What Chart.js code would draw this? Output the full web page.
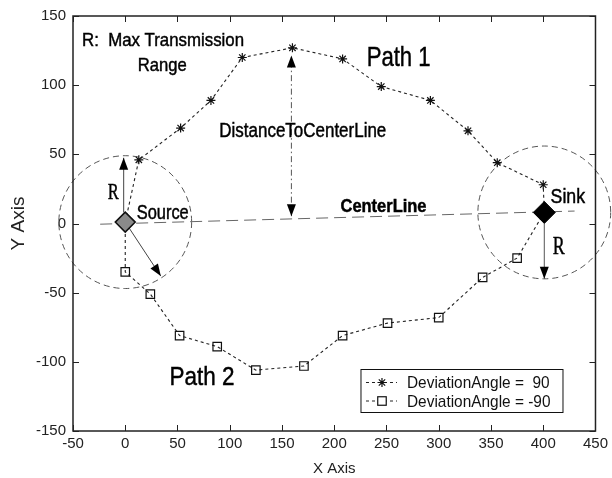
<!DOCTYPE html>
<html><head><meta charset="utf-8">
<script src="https://cdn.jsdelivr.net/npm/chart.js@4/dist/chart.umd.min.js"></script>
<style>html,body{margin:0;padding:0;background:#fff;}canvas{display:block;}</style>
</head><body>
<canvas id="c" width="612" height="478"></canvas>
<script>
// ---------- data ----------
const xTicks = [-50, 0, 50, 100, 150, 200, 250, 300, 350, 400, 450];
const yTicks = [-150, -100, -50, 0, 50, 100, 150];
const sourceNode = [0, 1];
const sinkNode = [401, 8];
// Path 1 (DeviationAngle = 90), starting at source and ending at sink
const path1X = [0, 13, 53, 82, 112, 160, 208, 245, 292, 328, 356, 400, 401];
const path1Y = [1, 46, 69, 89, 120, 127, 119, 99, 89, 67, 44, 28, 8];
// Path 2 (DeviationAngle = -90)
const path2X = [0, 0, 24, 52, 88, 125, 171, 208, 251, 300, 342, 375, 401];
const path2Y = [1, -35, -51, -81, -89, -106, -103, -81, -72, -68, -39, -25, 8];
const centerLineX = [-24, 430];
const centerLineY = [-0.5, 9];
const seriesLabels = ['DeviationAngle =  90', 'DeviationAngle = -90'];
const rangeR = 48; // max transmission range (y units)

const pts = (xs, ys) => xs.map((x, i) => ({x, y: ys[i]}));
const endsHidden = (xs, r) => xs.map((_, i) => (i === 0 || i === xs.length - 1) ? 0 : r);

// annotation arrows (data coords)
const arrows = [
  {from: [-1.5, 8], to: [-1.5, 47.5], dash: [], color: '#444', heads: 1},
  {from: [0, 1], to: [34, -38], dash: [], color: '#444', heads: 1},
  {from: [401, 0], to: [401, -40], dash: [], color: '#555', heads: 1},
  {from: [159, 5.3], to: [159, 121.5], dash: [6, 3, 1.5, 3], color: '#555', heads: 2}
];
// annotation texts: anchor (data coords, left/baseline), pixel width, font
const texts = [
  {t: 'R:  Max Transmission', x: -41.4, y: 128, w: 162, f: '18.5px "Liberation Sans", Arial, sans-serif'},
  {t: 'Range', x: 11.9, y: 109.9, w: 49, f: '18.5px "Liberation Sans", Arial, sans-serif'},
  {t: 'DistanceToCenterLine', x: 90, y: 62.2, w: 167, f: '19.5px "Liberation Sans", Arial, sans-serif'},
  {t: 'Path 1', x: 231, y: 113.5, w: 64, f: '28px "Liberation Sans", Arial, sans-serif'},
  {t: 'Path 2', x: 42.4, y: -116.4, w: 65, f: '25.5px "Liberation Sans", Arial, sans-serif'},
  {t: 'Source', x: 11, y: 3.6, w: 52, f: '19.5px "Liberation Sans", Arial, sans-serif'},
  {t: 'Sink', x: 407, y: 14.5, w: 34.5, f: '20px "Liberation Sans", Arial, sans-serif'},
  {t: 'CenterLine', x: 206, y: 8, w: 86, f: 'bold 18px "Liberation Sans", Arial, sans-serif'},
  {t: 'R', x: -16.7, y: 17.7, w: 11, f: '24px "Liberation Serif", "Times New Roman", serif'},
  {t: 'R', x: 409, y: -22.4, w: 12, f: '26px "Liberation Serif", "Times New Roman", serif'}
];

function fitText(ctx, t, x, y, w, font, color) {
  ctx.save();
  ctx.font = font;
  ctx.fillStyle = color || '#000';
  ctx.strokeStyle = color || '#000';
  ctx.lineWidth = 0.45;
  ctx.textAlign = 'left';
  ctx.textBaseline = 'alphabetic';
  const m = ctx.measureText(t).width;
  ctx.translate(x, y);
  ctx.scale(w / m, 1);
  ctx.fillText(t, 0, 0);
  ctx.strokeText(t, 0, 0);
  ctx.restore();
}
function arrowHead(ctx, x0, y0, x1, y1, len, hw) {
  const a = Math.atan2(y1 - y0, x1 - x0);
  const bx = x1 - len * Math.cos(a), by = y1 - len * Math.sin(a);
  ctx.beginPath();
  ctx.moveTo(x1, y1);
  ctx.lineTo(bx + hw * Math.sin(a), by - hw * Math.cos(a));
  ctx.lineTo(bx - hw * Math.sin(a), by + hw * Math.cos(a));
  ctx.closePath();
  ctx.fill();
}

const annot = {
  id: 'annot',
  beforeDatasetsDraw(chart) {
    const {ctx, scales: {x, y}} = chart;
    const rp = y.getPixelForValue(0) - y.getPixelForValue(rangeR);
    ctx.save();
    ctx.strokeStyle = '#555';
    ctx.lineWidth = 1;
    ctx.setLineDash([6, 4]);
    [sourceNode, sinkNode].forEach(n => {
      ctx.beginPath();
      ctx.arc(x.getPixelForValue(n[0]), y.getPixelForValue(n[1]), rp, 0, Math.PI * 2);
      ctx.stroke();
    });
    ctx.restore();
    arrows.forEach(a => {
      const x0 = x.getPixelForValue(a.from[0]), y0 = y.getPixelForValue(a.from[1]);
      const x1 = x.getPixelForValue(a.to[0]), y1 = y.getPixelForValue(a.to[1]);
      ctx.save();
      ctx.strokeStyle = a.color;
      ctx.lineWidth = 1;
      ctx.setLineDash(a.dash);
      ctx.beginPath();
      ctx.moveTo(x0, y0);
      ctx.lineTo(x1, y1);
      ctx.stroke();
      ctx.setLineDash([]);
      ctx.fillStyle = '#000';
      arrowHead(ctx, x0, y0, x1, y1, 12, 4.5);
      if (a.heads === 2) arrowHead(ctx, x1, y1, x0, y0, 12, 4.5);
      ctx.restore();
    });
  },
  afterDraw(chart) {
    const {ctx, chartArea: ca, scales: {x, y}} = chart;
    // box
    ctx.save();
    ctx.strokeStyle = '#222';
    ctx.lineWidth = 1.5;
    ctx.strokeRect(ca.left, ca.top, ca.right - ca.left, ca.bottom - ca.top);
    // inward ticks
    ctx.lineWidth = 1;
    ctx.beginPath();
    x.ticks.forEach(t => {
      const p = Math.round(x.getPixelForValue(t.value)) + 0.5;
      ctx.moveTo(p, ca.bottom); ctx.lineTo(p, ca.bottom - 6);
      ctx.moveTo(p, ca.top); ctx.lineTo(p, ca.top + 6);
    });
    y.ticks.forEach(t => {
      const p = Math.round(y.getPixelForValue(t.value)) + 0.5;
      ctx.moveTo(ca.left, p); ctx.lineTo(ca.left + 6, p);
      ctx.moveTo(ca.right, p); ctx.lineTo(ca.right - 6, p);
    });
    ctx.stroke();
    ctx.restore();
    // texts
    texts.forEach(o => fitText(ctx, o.t, x.getPixelForValue(o.x), y.getPixelForValue(o.y), o.w, o.f, '#000'));
    // legend
    const L = ca.right - 234.5, T = ca.top + 353.5, W = 202, H = 43;
    ctx.save();
    ctx.fillStyle = '#fff';
    ctx.fillRect(L, T, W, H);
    ctx.strokeStyle = '#111';
    ctx.lineWidth = 1;
    ctx.strokeRect(L, T, W, H);
    const font = '17px "Liberation Sans", Arial, sans-serif';
    ctx.font = font;
    const sx = 143.5 / ctx.measureText(seriesLabels[1]).width;
    seriesLabels.forEach((lab, i) => {
      const cy = T + 13 + i * 18.5;
      ctx.save();
      ctx.strokeStyle = '#222';
      ctx.setLineDash([3, 3]);
      ctx.beginPath();
      ctx.moveTo(L + 5, cy); ctx.lineTo(L + 36, cy);
      ctx.stroke();
      ctx.setLineDash([]);
      const mx = L + 21;
      ctx.strokeStyle = '#111';
      ctx.lineWidth = 1.2;
      if (i === 0) {
        const r = 4.5, d = r * Math.SQRT1_2;
        ctx.beginPath();
        ctx.moveTo(mx - r, cy); ctx.lineTo(mx + r, cy);
        ctx.moveTo(mx, cy - r); ctx.lineTo(mx, cy + r);
        ctx.moveTo(mx - d, cy - d); ctx.lineTo(mx + d, cy + d);
        ctx.moveTo(mx - d, cy + d); ctx.lineTo(mx + d, cy - d);
        ctx.stroke();
      } else {
        ctx.fillStyle = '#fff';
        ctx.fillRect(mx - 4.25, cy - 4.25, 8.5, 8.5);
        ctx.strokeRect(mx - 4.25, cy - 4.25, 8.5, 8.5);
      }
      ctx.restore();
      ctx.save();
      ctx.font = font;
      ctx.fillStyle = '#111';
      ctx.textBaseline = 'alphabetic';
      ctx.translate(L + 46, cy + 5.5);
      ctx.scale(sx, 1);
      ctx.fillText(lab, 0, 0);
      ctx.restore();
    });
    ctx.restore();
  }
};

new Chart(document.getElementById('c'), {
  type: 'scatter',
  data: {
    datasets: [
      {
        label: 'Source', data: [{x: sourceNode[0], y: sourceNode[1]}],
        pointStyle: 'rectRot', pointRadius: 10, backgroundColor: '#8a8a8a',
        borderColor: '#111', borderWidth: 1.5, order: 0
      },
      {
        label: 'Sink', data: [{x: sinkNode[0], y: sinkNode[1]}],
        pointStyle: 'rectRot', pointRadius: 11, backgroundColor: '#000',
        borderColor: '#000', borderWidth: 1, order: 0
      },
      {
        label: seriesLabels[0], data: pts(path1X, path1Y), showLine: true,
        borderColor: '#222', borderWidth: 1.1, borderDash: [3, 3],
        pointStyle: 'star', pointRadius: endsHidden(path1X, 4.5),
        pointBorderColor: '#111', pointBorderWidth: 1.2, pointBackgroundColor: '#111',
        order: 1
      },
      {
        label: seriesLabels[1], data: pts(path2X, path2Y), showLine: true,
        borderColor: '#222', borderWidth: 1.1, borderDash: [3, 3],
        pointStyle: 'rect', pointRadius: endsHidden(path2X, 6),
        pointBorderColor: '#111', pointBorderWidth: 1.2, pointBackgroundColor: 'rgba(0,0,0,0)',
        order: 1
      },
      {
        label: 'CenterLine', data: pts(centerLineX, centerLineY), showLine: true,
        borderColor: '#666', borderWidth: 1, borderDash: [12, 6], pointRadius: 0, order: 2
      }
    ]
  },
  options: {
    responsive: false, animation: false, events: [],
    layout: {padding: {top: 16, right: 14, left: 0, bottom: 0}},
    plugins: {legend: {display: false}, tooltip: {enabled: false}},
    scales: {
      x: {
        type: 'linear', min: -50, max: 450,
        afterBuildTicks: s => { s.ticks = xTicks.map(v => ({value: v})); },
        afterFit: s => { s.height = 47; },
        grid: {display: false, drawTicks: false}, border: {display: false},
        ticks: {color: '#222', font: {size: 15, family: '"Liberation Sans", Arial, sans-serif'}, padding: 4, maxRotation: 0},
        title: {display: true, text: 'X Axis', color: '#222', padding: {top: 0, bottom: 0},
                font: {size: 15, family: '"Liberation Sans", Arial, sans-serif'}}
      },
      y: {
        type: 'linear', min: -150, max: 150,
        afterBuildTicks: s => { s.ticks = yTicks.map(v => ({value: v})); },
        afterFit: s => { s.width = 73; },
        grid: {display: false, drawTicks: false}, border: {display: false},
        ticks: {color: '#222', font: {size: 15, family: '"Liberation Sans", Arial, sans-serif'}, padding: 7},
        title: {display: true, text: 'Y Axis', color: '#222', padding: {top: 7, bottom: 0},
                font: {size: 19, family: '"Liberation Sans", Arial, sans-serif'}}
      }
    }
  },
  plugins: [annot]
});
</script>
</body></html>
